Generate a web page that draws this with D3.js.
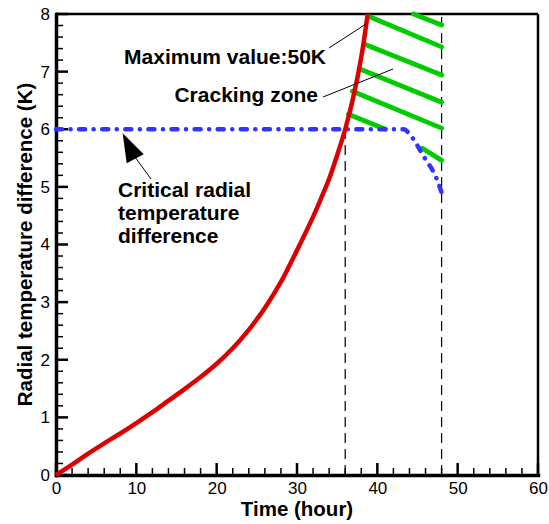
<!DOCTYPE html>
<html>
<head>
<meta charset="utf-8">
<script src="https://cdn.jsdelivr.net/npm/d3@7"></script>
<style>
  html, body { margin: 0; padding: 0; background: #fff; }
  svg { display: block; font-family: "Liberation Sans", Arial, sans-serif; }
</style>
</head>
<body>
<svg id="chart" width="549" height="524"></svg>
<script>
// ---- data ----
const timeHours  = [0, 2, 4, 6, 8, 10, 12, 14, 16, 18, 20, 22, 24, 26, 28, 30, 32, 33, 34, 35, 36, 37, 38, 38.8];
const radialDiff = [0, 0.18, 0.37, 0.55, 0.72, 0.9, 1.09, 1.29, 1.49, 1.7, 1.93, 2.2, 2.52, 2.9, 3.35, 3.9, 4.48, 4.8, 5.14, 5.55, 6.0, 6.55, 7.25, 8.0];

const criticalTime  = [0, 43.3, 44, 44.8, 45.9, 46.9, 47.5, 48];
const criticalValue = [6, 6, 5.92, 5.76, 5.5, 5.28, 5.1, 4.9];

const markerTimes = [36, 48];
const markerTops  = [6, 8];

const hatchT1 = [44.5, 38.9, 38.5, 37.9, 36.9, 36.4, 45.6];
const hatchV1 = [8.0, 7.96, 7.47, 7.04, 6.66, 6.26, 5.67];
const hatchT2 = [48, 48, 48, 48, 48, 41.0, 48];
const hatchV2 = [7.81, 7.43, 6.94, 6.47, 6.02, 6.0, 5.46];

const xTicks = [0, 10, 20, 30, 40, 50, 60];
const yTicks = [0, 1, 2, 3, 4, 5, 6, 7, 8];
const xMinor = d3.range(0, 60.001, 2).filter(v => v % 10 !== 0);
const yMinor = d3.range(0, 8.001, 0.2).filter(v => Math.abs(v - Math.round(v)) > 1e-6);

// ---- layout ----
const W = 549, H = 524;
const m = { left: 56, right: 11, top: 14, bottom: 49 };
const svg = d3.select("#chart");
const x = d3.scaleLinear().domain([0, 60]).range([m.left, W - m.right]);
const y = d3.scaleLinear().domain([0, 8]).range([H - m.bottom, m.top]);
const FONT = '"Liberation Sans", Arial, sans-serif';

// tick marks (inward), drawn through the scales
const tickG = svg.append("g").attr("stroke", "#000");
tickG.selectAll(".xminor").data(xMinor).join("line")
  .attr("x1", d => x(d)).attr("x2", d => x(d)).attr("y1", y(0)).attr("y2", y(0) - 7).attr("stroke-width", 1.5);
tickG.selectAll(".yminor").data(yMinor).join("line")
  .attr("y1", d => y(d)).attr("y2", d => y(d)).attr("x1", x(0)).attr("x2", x(0) + 7).attr("stroke-width", 1.5);
tickG.selectAll(".xmajor").data(xTicks).join("line")
  .attr("x1", d => x(d)).attr("x2", d => x(d)).attr("y1", y(0)).attr("y2", y(0) - 12).attr("stroke-width", 2.5);
tickG.selectAll(".ymajor").data(yTicks).join("line")
  .attr("y1", d => y(d)).attr("y2", d => y(d)).attr("x1", x(0)).attr("x2", x(0) + 12).attr("stroke-width", 2.5);

// frame
svg.append("line").attr("x1", x(0)).attr("x2", x(60)).attr("y1", y(8)).attr("y2", y(8))
  .attr("stroke", "#000").attr("stroke-width", 2.5);
svg.append("line").attr("x1", x(60)).attr("x2", x(60)).attr("y1", y(0)).attr("y2", y(8))
  .attr("stroke", "#000").attr("stroke-width", 2.5);

// axes (labels + thick domain)
const xAxis = svg.append("g").attr("transform", `translate(0,${y(0)})`)
  .call(d3.axisBottom(x).tickValues(xTicks).tickSize(0).tickSizeOuter(0).tickPadding(7).tickFormat(d3.format("d")));
const yAxis = svg.append("g").attr("transform", `translate(${x(0)},0)`)
  .call(d3.axisLeft(y).tickValues(yTicks).tickSize(0).tickSizeOuter(0).tickPadding(6).tickFormat(d3.format("d")));
[xAxis, yAxis].forEach(g => {
  g.select(".domain").attr("stroke", "#000").attr("stroke-width", 3.5).attr("stroke-linecap", "square");
  g.selectAll(".tick text").attr("fill", "#000").style("font-size", "17px").style("font-family", FONT);
});

// axis titles
svg.append("text").attr("x", 297).attr("y", 516).attr("text-anchor", "middle")
  .style("font-size", "20.5px").style("font-weight", "bold").text("Time (hour)");
svg.append("text").attr("transform", `translate(32,${(y(0) + y(8)) / 2}) rotate(-90)`)
  .attr("text-anchor", "middle").style("font-size", "20.5px").style("font-weight", "bold")
  .text("Radial temperature difference (K)");

// dashed vertical markers
svg.selectAll(".marker").data(markerTimes.map((t, i) => ({ t, top: markerTops[i] })))
  .join("line").attr("class", "marker")
  .attr("x1", d => x(d.t)).attr("x2", d => x(d.t))
  .attr("y1", y(0)).attr("y2", d => y(d.top))
  .attr("stroke", "#000").attr("stroke-width", 1.2).attr("stroke-dasharray", "10,6");

// hatch lines
svg.selectAll(".hatch").data(hatchT1.map((t, i) => [t, hatchV1[i], hatchT2[i], hatchV2[i]]))
  .join("line").attr("class", "hatch")
  .attr("x1", d => x(d[0])).attr("y1", d => y(d[1]))
  .attr("x2", d => x(d[2])).attr("y2", d => y(d[3]))
  .attr("stroke", "#00cc00").attr("stroke-width", 4.8).attr("stroke-linecap", "round");

// critical line (dash-dot)
const critData = criticalTime.map((t, i) => [t, criticalValue[i]]);
svg.append("path").datum(critData)
  .attr("d", d3.line().x(d => x(d[0])).y(d => y(d[1])).curve(d3.curveMonotoneX))
  .attr("fill", "none").attr("stroke", "#3333ff").attr("stroke-width", 4.5)
  .attr("stroke-linecap", "round").attr("stroke-dasharray", "6,8.5,0.1,8.5");

// red curve
const redData = timeHours.map((t, i) => [t, radialDiff[i]]);
svg.append("path").datum(redData)
  .attr("d", d3.line().x(d => x(d[0])).y(d => y(d[1])).curve(d3.curveCatmullRom.alpha(0.5)))
  .attr("fill", "none").attr("stroke", "#dd0000").attr("stroke-width", 4.5);

// annotations
const ann = svg.append("g").style("font-size", "21px").style("font-weight", "bold").attr("fill", "#000");
ann.append("text").attr("x", 326).attr("y", 64).attr("text-anchor", "end").text("Maximum value:50K");
ann.append("text").attr("x", 318).attr("y", 102).attr("text-anchor", "end").text("Cracking zone");
const crit = ann.append("text").attr("x", 118).attr("y", 197);
["Critical radial", "temperature", "difference"].forEach((s, i) => {
  crit.append("tspan").attr("x", 118).attr("dy", i === 0 ? 0 : 23).text(s);
});

// leader lines
svg.append("line").attr("x1", 329).attr("y1", 48).attr("x2", 366).attr("y2", 24)
  .attr("stroke", "#000").attr("stroke-width", 1);
svg.append("line").attr("x1", 323).attr("y1", 97).attr("x2", 393).attr("y2", 69)
  .attr("stroke", "#000").attr("stroke-width", 1);

// arrow
svg.append("line").attr("x1", 151).attr("y1", 179).attr("x2", 135).attr("y2", 157)
  .attr("stroke", "#000").attr("stroke-width", 1);
const tipX = x(8.3), tipY = y(6) + 4;
svg.append("path")
  .attr("d", `M${tipX},${tipY} L${tipX + 4},${tipY + 30} L${tipX + 21},${tipY + 21} Z`)
  .attr("fill", "#000");
</script>
</body>
</html>
